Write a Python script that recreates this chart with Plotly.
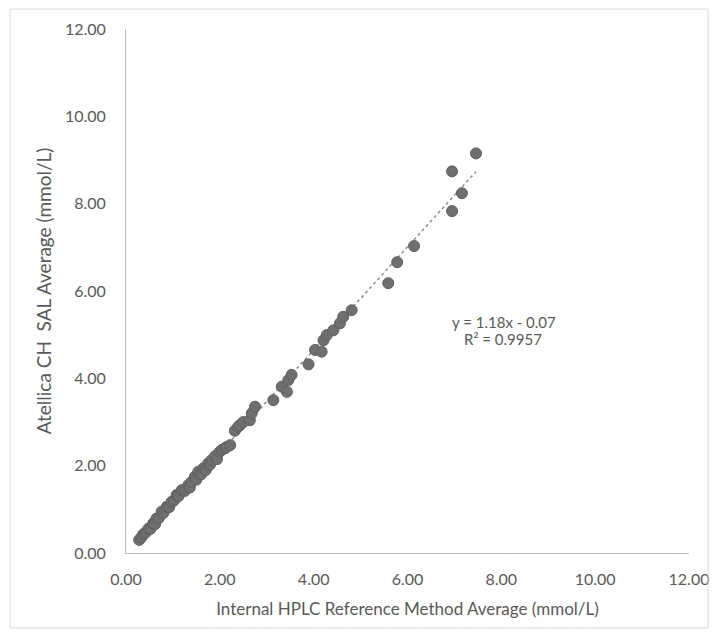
import plotly.graph_objects as go

# Data
hplc_ref = [0.28, 0.33, 0.37, 0.42, 0.48, 0.52, 0.58, 0.62, 0.65, 0.70, 0.76, 0.80, 0.87, 0.92,
            0.97, 1.02, 1.08, 1.12, 1.19, 1.25, 1.33, 1.36, 1.40, 1.47, 1.50, 1.54, 1.60, 1.65,
            1.70, 1.75, 1.79, 1.83, 1.90, 1.94, 2.00, 2.04, 2.11, 2.15, 2.22, 2.32, 2.39, 2.43,
            2.50, 2.64, 2.68, 2.75, 3.14, 3.32, 3.43, 3.46, 3.53, 3.89, 4.03, 4.17, 4.21, 4.28,
            4.42, 4.56, 4.63, 4.81, 5.59, 5.78, 6.14, 6.95, 6.95, 7.16, 7.46]
atellica = [0.30, 0.36, 0.43, 0.47, 0.56, 0.55, 0.68, 0.66, 0.79, 0.80, 0.95, 0.92, 1.06, 1.05,
            1.17, 1.20, 1.33, 1.30, 1.44, 1.42, 1.56, 1.50, 1.63, 1.75, 1.68, 1.86, 1.80, 1.94,
            1.90, 2.05, 2.02, 2.13, 2.22, 2.15, 2.32, 2.36, 2.40, 2.43, 2.47, 2.80, 2.89, 2.93,
            3.00, 3.04, 3.20, 3.35, 3.50, 3.81, 3.69, 3.96, 4.08, 4.32, 4.65, 4.61, 4.87, 4.99,
            5.10, 5.26, 5.41, 5.56, 6.18, 6.66, 7.03, 7.83, 8.74, 8.24, 9.15]

slope = 1.18
intercept = -0.07
r_squared = 0.9957

tick_vals = [0, 2, 4, 6, 8, 10, 12]
tick_text = ["0.00", "2.00", "4.00", "6.00", "8.00", "10.00", "12.00"]

x_title = "Internal HPLC Reference Method Average (mmol/L)"
y_title = "Atellica CH\u00a0 SAL Average (mmol/L)"

trend_x = [min(hplc_ref), max(hplc_ref)]
trend_y = [slope * v + intercept for v in trend_x]

fig = go.Figure()
fig.add_trace(go.Scatter(
    x=trend_x, y=trend_y, mode="lines",
    line=dict(color="#8c8c8c", width=1.5, dash="dot"),
    hoverinfo="skip", showlegend=False))
fig.add_trace(go.Scatter(
    x=hplc_ref, y=atellica, mode="markers",
    marker=dict(color="#6f6f6f", size=11, line=dict(color="#5f5f5f", width=1)),
    showlegend=False))

font_family = "Lato, 'Open Sans', sans-serif"
axis_common = dict(
    range=[0, 12], tickvals=tick_vals, ticktext=tick_text,
    showgrid=False, zeroline=False, showline=True, linecolor="#bfbfbf", linewidth=1,
    ticks="", tickfont=dict(family=font_family, size=16, color="#595959"),
    fixedrange=True, automargin=False,
)

fig.update_layout(
    width=717, height=638,
    margin=dict(l=126, r=28, t=29, b=85),
    paper_bgcolor="white", plot_bgcolor="white",
    xaxis=dict(**axis_common, ticklabelstandoff=12,
               title=dict(text=x_title, standoff=15,
                          font=dict(family=font_family, size=17, color="#595959"))),
    yaxis=dict(**axis_common, ticklabelstandoff=16,
               title=dict(text=y_title, standoff=8,
                          font=dict(family=font_family, size=19, color="#595959"))),
    annotations=[
        dict(x=8.06, y=5.29, xref="x", yref="y", showarrow=False,
             text=f"y = {slope:.2f}x - {abs(intercept):.2f}",
             font=dict(family=font_family, size=15, color="#595959")),
        dict(x=8.03, y=4.90, xref="x", yref="y", showarrow=False,
             text=f"R² = {r_squared:.4f}",
             font=dict(family=font_family, size=15, color="#595959")),
    ],
    shapes=[dict(type="rect", xref="paper", yref="paper",
                 x0=-0.206, x1=1.034, y0=-0.143, y1=1.038,
                 line=dict(color="#d9d9d9", width=1), fillcolor="rgba(0,0,0,0)")],
)

fig.write_html("out.html", config={"displayModeBar": False},
               post_script="document.body.style.margin='0';")
